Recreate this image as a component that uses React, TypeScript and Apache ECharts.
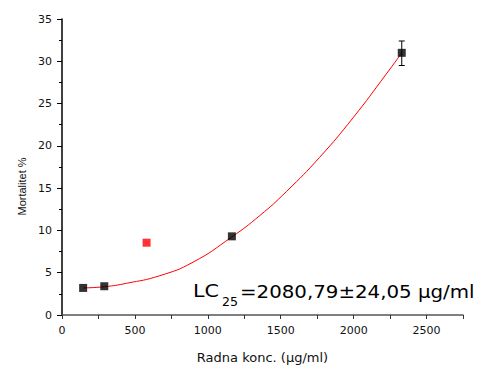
import React, { useEffect, useRef } from "react";
import * as echarts from "echarts";

// Measured points (concentration µg/ml, mortality %)
const blackX = [145, 290, 1165, 2330];
const blackY = [3.2, 3.4, 9.3, 31.0];
const redX = [580];
const redY = [8.55];
// error bar at the last point: [x, low, high]
const errX = [2330];
const errLow = [29.5];
const errHigh = [32.4];
// fitted curve
const fitX = [145, 294, 443, 671, 899, 1162, 1356, 1539, 1767, 1995, 2224, 2330];
const fitY = [3.2, 3.35, 3.75, 4.65, 6.25, 9.2, 11.75, 14.6, 18.65, 23.3, 28.5, 31.0];

const xTitle = "Radna konc. (\u00b5g/ml)";
const yTitle = "Mortalitet %";
const lcMain = "LC";
const lcSub = "25";
const lcRest = "=2080,79\u00b124,05 \u00b5g/ml";

export default function App() {
  const ref = useRef<HTMLDivElement>(null);
  useEffect(() => {
    document.body.style.margin = "0";
    const chart = echarts.init(ref.current!, null, { renderer: "svg" });
    const font = "DejaVu Sans";
    chart.setOption({
      animation: false,
      backgroundColor: "#ffffff",
      grid: { left: 62, right: 15, top: 19, bottom: 53 },
      xAxis: {
        type: "value",
        min: 0,
        max: 2750,
        interval: 250,
        name: xTitle,
        nameLocation: "middle",
        nameGap: 36,
        nameTextStyle: { fontFamily: font, fontSize: 13, color: "#111" },
        axisLine: { show: true, onZero: false, lineStyle: { color: "#555", width: 1.5 } },
        axisTick: { show: true, length: 4, lineStyle: { color: "#333" } },
        axisLabel: {
          margin: 10,
          fontFamily: font,
          fontSize: 11,
          color: "#111",
          formatter: (v: number) => (v % 500 === 0 ? String(v) : ""),
        },
        splitLine: { show: false },
      },
      yAxis: {
        type: "value",
        min: 0,
        max: 35,
        interval: 5,
        axisLine: { show: true, onZero: false, lineStyle: { color: "#000", width: 1.5 } },
        axisTick: { show: true, length: 5, lineStyle: { color: "#000" } },
        minorTick: { show: true, splitNumber: 2, length: 3, lineStyle: { color: "#000" } },
        axisLabel: { margin: 10, fontFamily: font, fontSize: 11, color: "#111" },
        splitLine: { show: false },
      },
      series: [
        {
          type: "line",
          data: fitX.map((x, i) => [x, fitY[i]]),
          smooth: 0.5,
          showSymbol: false,
          lineStyle: { color: "#ff0000", width: 1 },
          z: 2,
        },
        {
          type: "custom",
          data: errX.map((x, i) => [x, errLow[i], errHigh[i]]),
          renderItem: (params: any, api: any) => {
            const lo = api.coord([api.value(0), api.value(1)]);
            const hi = api.coord([api.value(0), api.value(2)]);
            const w = 3;
            const st = { stroke: "#000", lineWidth: 1 };
            return {
              type: "group",
              children: [
                { type: "line", shape: { x1: hi[0], y1: hi[1], x2: lo[0], y2: lo[1] }, style: st },
                { type: "line", shape: { x1: hi[0] - w, y1: hi[1], x2: hi[0] + w, y2: hi[1] }, style: st },
                { type: "line", shape: { x1: lo[0] - w, y1: lo[1], x2: lo[0] + w, y2: lo[1] }, style: st },
              ],
            };
          },
          z: 3,
        },
        {
          type: "scatter",
          data: blackX.map((x, i) => [x, blackY[i]]),
          symbol: "rect",
          symbolSize: 8,
          itemStyle: { color: "#000" },
          z: 4,
        },
        {
          type: "scatter",
          data: redX.map((x, i) => [x, redY[i]]),
          symbol: "rect",
          symbolSize: 8,
          itemStyle: { color: "#ff0000" },
          z: 4,
        },
      ],
      graphic: [
        {
          type: "text",
          x: 21.5,
          y: 186.5,
          rotation: Math.PI / 2,
          style: {
            text: yTitle,
            fontFamily: "Liberation Sans",
            fontSize: 11,
            fill: "#111",
            align: "center",
            verticalAlign: "middle",
          },
        },
        {
          type: "text",
          x: 193,
          y: 291,
          scaleX: 1.15,
          style: { text: lcMain, fontFamily: font, fontSize: 18, fill: "#000", align: "left", verticalAlign: "middle" },
        },
        {
          type: "text",
          x: 222,
          y: 302,
          scaleX: 1.05,
          style: { text: lcSub, fontFamily: font, fontSize: 12, fill: "#000", align: "left", verticalAlign: "middle" },
        },
        {
          type: "text",
          x: 240,
          y: 291,
          scaleX: 1.1,
          style: { text: lcRest, fontFamily: font, fontSize: 18, fill: "#000", align: "left", verticalAlign: "middle" },
        },
      ],
    });
    return () => chart.dispose();
  }, []);
  return <div ref={ref} style={{ width: 478, height: 369 }} />;
}
